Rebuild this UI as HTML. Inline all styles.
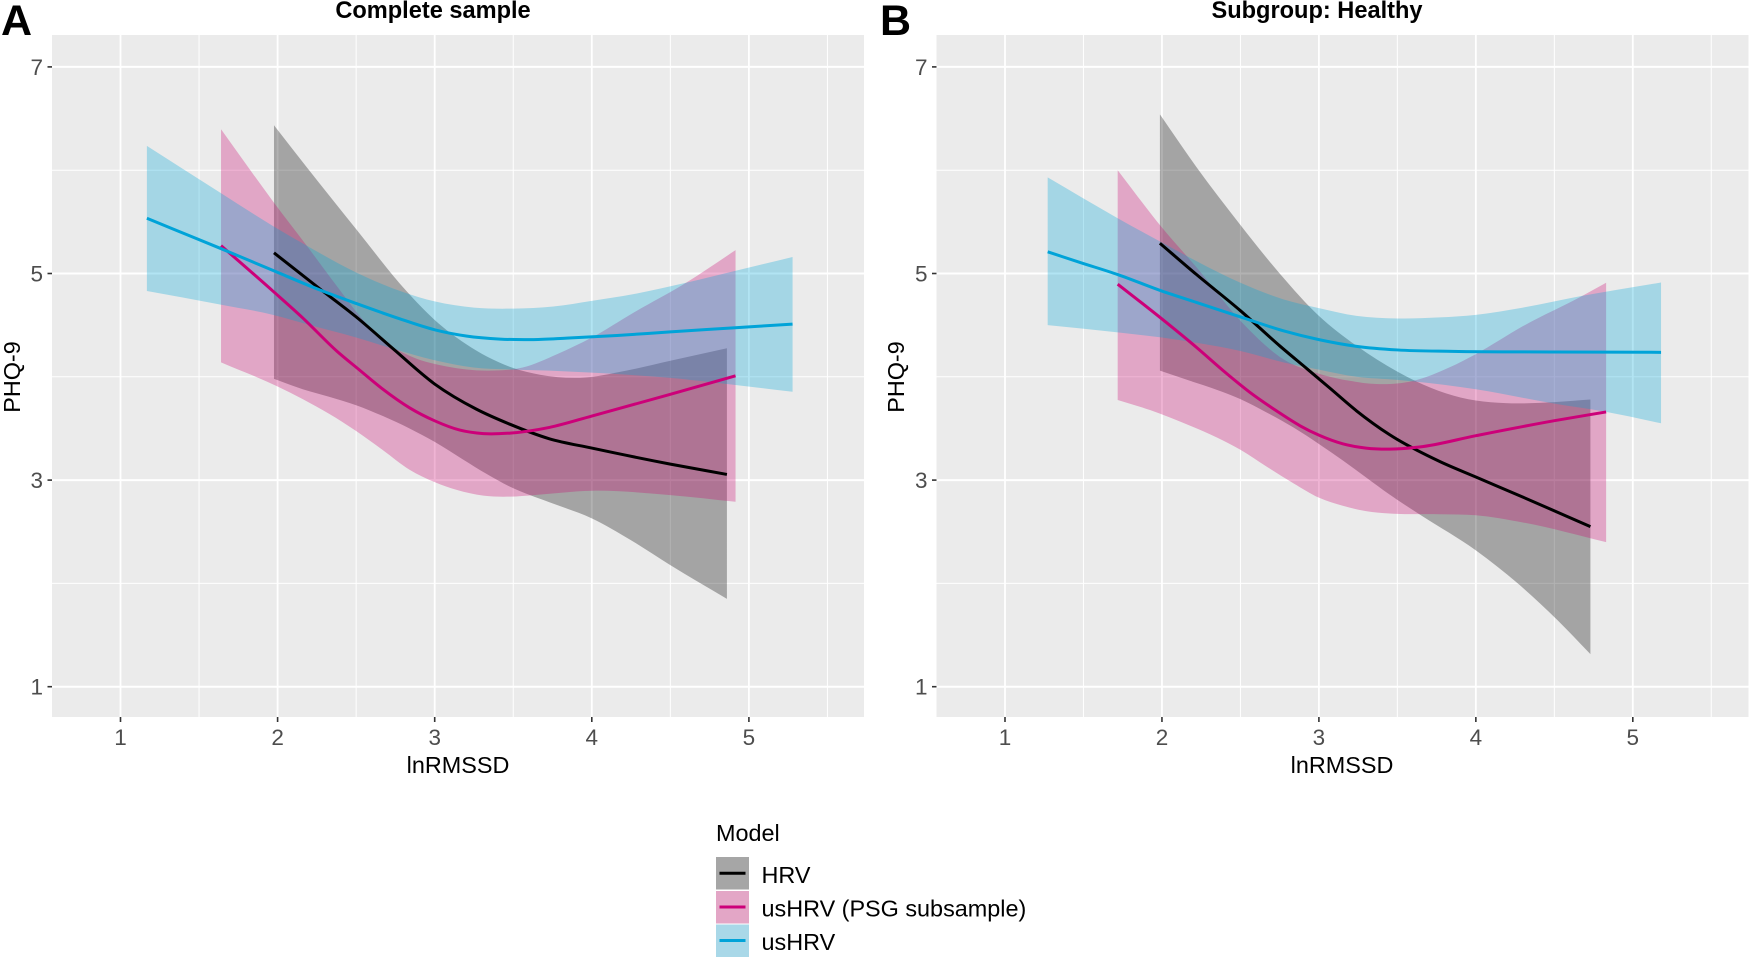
<!DOCTYPE html>
<html lang="en">
<head>
<meta charset="utf-8">
<title>PHQ-9 by lnRMSSD</title>
<style>
html,body{margin:0;padding:0;background:#fff;width:1750px;height:959px;overflow:hidden}
svg{display:block}
text{font-family:"Liberation Sans",Arial,sans-serif}
</style>
</head>
<body>
<svg id="figure" xmlns="http://www.w3.org/2000/svg" width="1750" height="959" viewBox="0 0 1750 959">
  <rect x="0" y="0" width="1750" height="959" fill="#ffffff"/>
  <text x="1" y="35" font-size="43" font-weight="700" fill="#000">A</text>
  <text x="880" y="35" font-size="43" font-weight="700" fill="#000">B</text>
  <text x="433" y="18" font-size="23.6" font-weight="700" text-anchor="middle" fill="#000">Complete sample</text>
  <text x="1317" y="18" font-size="23.6" font-weight="700" text-anchor="middle" fill="#000">Subgroup: Healthy</text>
  <text x="458" y="773" font-size="23.4" text-anchor="middle" fill="#000">lnRMSSD</text>
  <text x="1342" y="773" font-size="23.4" text-anchor="middle" fill="#000">lnRMSSD</text>
  <text transform="translate(20,377) rotate(-90)" font-size="23.4" text-anchor="middle" fill="#000">PHQ-9</text>
  <text transform="translate(904,377) rotate(-90)" font-size="23.4" text-anchor="middle" fill="#000">PHQ-9</text>
  <g>
    <text x="716" y="841" font-size="23.4" fill="#000">Model</text>
    <g>
      <rect x="716" y="857" width="33" height="32.5" fill="#a6a6a6"/>
      <line x1="719.5" x2="745.5" y1="873.3" y2="873.3" stroke="#000" stroke-width="3"/>
      <text x="761.5" y="883" font-size="23.4" fill="#000">HRV</text>
    </g>
    <g>
      <rect x="716" y="891" width="33" height="32.5" fill="#e3a6c6"/>
      <line x1="719.5" x2="745.5" y1="907" y2="907" stroke="#cc0079" stroke-width="3"/>
      <text x="761.5" y="916.5" font-size="23.4" fill="#000">usHRV (PSG subsample)</text>
    </g>
    <g>
      <rect x="716" y="924.5" width="33" height="32.5" fill="#a9d8e8"/>
      <line x1="719.5" x2="745.5" y1="940.5" y2="940.5" stroke="#00a3d8" stroke-width="3"/>
      <text x="761.5" y="950" font-size="23.4" fill="#000">usHRV</text>
    </g>
  </g>
</svg>
<script>
// Axis values
const xMajorTicks = [1, 2, 3, 4, 5];
const xMinorTicks = [1.5, 2.5, 3.5, 4.5, 5.5];
const yMajorTicks = [1, 3, 5, 7];
const yMinorTicks = [2, 4, 6];

// Panel A: Complete sample, [lnRMSSD, PHQ-9]
const aHrvUpper = [[1.977,6.435],[2.185,6.03],[2.5,5.43],[2.82,4.83],[3,4.55],[3.2,4.316],[3.5,4.085],[3.67,4.02],[3.925,3.99],[4.22,4.06],[4.5,4.155],[4.86,4.277]];
const aHrvLine = [[1.977,5.2],[2.27,4.85],[2.5,4.58],[2.736,4.27],[3,3.93],[3.265,3.687],[3.48,3.54],[3.73,3.40],[4,3.31],[4.5,3.155],[4.86,3.055]];
const aHrvLower = [[1.977,3.98],[2.16,3.88],[2.33,3.806],[2.5,3.725],[2.67,3.62],[2.84,3.50],[3,3.37],[3.18,3.2],[3.33,3.06],[3.48,2.935],[3.73,2.785],[4,2.63],[4.247,2.42],[4.496,2.18],[4.86,1.85]];
const aPsgUpper = [[1.64,6.397],[1.97,5.70],[2.185,5.27],[2.376,4.88],[2.545,4.55],[2.694,4.33],[2.86,4.19],[3.076,4.10],[3.33,4.06],[3.56,4.09],[3.78,4.22],[4,4.38],[4.265,4.62],[4.6,4.91],[4.915,5.226]];
const aPsgLine = [[1.64,5.27],[1.97,4.83],[2.16,4.57],[2.376,4.25],[2.526,4.06],[2.67,3.88],[2.84,3.70],[3,3.574],[3.16,3.484],[3.31,3.45],[3.48,3.455],[3.73,3.51],[4,3.62],[4.5,3.83],[4.915,4.01]];
const aPsgLower = [[1.64,4.14],[2,3.906],[2.16,3.784],[2.33,3.64],[2.5,3.475],[2.67,3.29],[2.84,3.10],[3,2.98],[3.14,2.905],[3.31,2.85],[3.48,2.84],[3.63,2.855],[4,2.897],[4.5,2.855],[4.915,2.79]];
const aUsUpper = [[1.168,6.235],[1.633,5.784],[1.97,5.46],[2.185,5.27],[2.5,5.01],[2.8,4.82],[3,4.73],[3.25,4.67],[3.5,4.66],[3.755,4.68],[4,4.735],[4.265,4.80],[4.6,4.91],[4.9,5.02],[5.278,5.16]];
const aUsLine = [[1.168,5.535],[1.336,5.43],[1.633,5.245],[1.97,5.03],[2.27,4.84],[2.5,4.71],[2.78,4.56],[3,4.455],[3.2,4.395],[3.416,4.365],[3.63,4.36],[3.84,4.374],[4.16,4.40],[4.5,4.435],[4.9,4.474],[5.278,4.51]];
const aUsLower = [[1.168,4.83],[1.633,4.70],[1.97,4.6],[2.185,4.51],[2.5,4.38],[2.715,4.28],[3,4.16],[3.246,4.09],[3.5,4.07],[3.73,4.06],[4,4.04],[4.265,4.016],[4.5,3.99],[4.86,3.93],[5.278,3.855]];

// Panel B: Subgroup Healthy, [lnRMSSD, PHQ-9]
const bHrvUpper = [[1.987,6.54],[2.22,6.03],[2.5,5.47],[2.75,5.0],[3,4.59],[3.24,4.30],[3.5,4.05],[3.6,3.97],[3.81,3.84],[4,3.77],[4.19,3.745],[4.5,3.755],[4.73,3.78]];
const bHrvLine = [[1.987,5.293],[2.22,4.99],[2.5,4.64],[2.75,4.30],[2.93,4.07],[3.07,3.89],[3.24,3.67],[3.45,3.44],[3.77,3.18],[4,3.03],[4.3,2.835],[4.73,2.55]];
const bHrvLower = [[1.987,4.06],[2.18,3.96],[2.35,3.874],[2.5,3.784],[2.667,3.655],[2.837,3.51],[3,3.35],[3.155,3.187],[3.3,3.026],[3.45,2.86],[3.66,2.65],[4,2.32],[4.267,2.0],[4.52,1.645],[4.73,1.315]];
const bPsgUpper = [[1.718,6.0],[2,5.445],[2.22,5.06],[2.52,4.51],[2.774,4.17],[3,4.03],[3.2,3.96],[3.365,3.93],[3.6,3.96],[3.83,4.09],[4,4.22],[4.3,4.49],[4.68,4.784],[4.83,4.91]];
const bPsgLine = [[1.718,4.897],[2,4.56],[2.22,4.285],[2.39,4.06],[2.56,3.85],[2.73,3.67],[2.88,3.526],[3,3.435],[3.155,3.35],[3.3,3.31],[3.45,3.30],[3.64,3.32],[4,3.43],[4.5,3.575],[4.83,3.66]];
const bPsgLower = [[1.718,3.776],[1.926,3.677],[2.18,3.526],[2.35,3.413],[2.5,3.294],[2.667,3.13],[2.837,2.97],[3,2.83],[3.155,2.75],[3.3,2.70],[3.45,2.677],[3.77,2.67],[4,2.66],[4.3,2.59],[4.83,2.4]];
const bUsUpper = [[1.272,5.93],[1.718,5.535],[2,5.30],[2.22,5.12],[2.5,4.91],[2.774,4.75],[3,4.665],[3.24,4.59],[3.5,4.565],[3.77,4.575],[4,4.6],[4.3,4.67],[4.68,4.784],[5.18,4.913]];
const bUsLine = [[1.272,5.21],[1.48,5.106],[1.718,4.99],[2,4.83],[2.22,4.72],[2.52,4.57],[2.774,4.445],[3,4.36],[3.24,4.295],[3.5,4.26],[3.85,4.246],[4.5,4.24],[5.18,4.237]];
const bUsLower = [[1.272,4.50],[1.718,4.43],[2,4.38],[2.22,4.33],[2.5,4.25],[2.774,4.14],[3,4.07],[3.24,4.0],[3.5,3.97],[3.6,3.956],[4,3.88],[4.5,3.74],[4.83,3.66],[5.18,3.55]];

const SVG_NS = 'http://www.w3.org/2000/svg';
const figure = document.getElementById('figure');

function node(tag, parent) {
  const el = document.createElementNS(SVG_NS, tag);
  parent.appendChild(el);
  return el;
}

// Smooth cubic path with parabolic tangents through pixel points
function curve(pts, start) {
  const n = pts.length;
  const s = [];
  const h = [];
  for (let i = 0; i < n - 1; i++) {
    h.push(pts[i + 1][0] - pts[i][0]);
    s.push((pts[i + 1][1] - pts[i][1]) / h[i]);
  }
  const m = [s[0]];
  for (let i = 1; i < n - 1; i++) {
    m.push((h[i] * s[i - 1] + h[i - 1] * s[i]) / (h[i - 1] + h[i]));
  }
  m.push(s[n - 2]);
  let d = start + pts[0][0].toFixed(2) + ' ' + pts[0][1].toFixed(2);
  for (let i = 0; i < n - 1; i++) {
    const dx = h[i] / 3;
    d += ' C' + (pts[i][0] + dx).toFixed(2) + ' ' + (pts[i][1] + m[i] * dx).toFixed(2) +
         ' ' + (pts[i + 1][0] - dx).toFixed(2) + ' ' + (pts[i + 1][1] - m[i + 1] * dx).toFixed(2) +
         ' ' + pts[i + 1][0].toFixed(2) + ' ' + pts[i + 1][1].toFixed(2);
  }
  return d;
}

function drawPanel(id, frame, series) {
  const xScale = v => frame.x1 + (v - 1) * frame.xUnit;
  const yScale = v => frame.y1 - (v - 1) * frame.yUnit;
  const toPx = p => [xScale(p[0]), yScale(p[1])];

  const g = node('g', figure);
  
  

  const bg = node('rect', g);
  
  
  bg.setAttribute('x', frame.left);
  bg.setAttribute('y', frame.top);
  bg.setAttribute('width', frame.right - frame.left);
  bg.setAttribute('height', frame.bottom - frame.top);
  bg.setAttribute('fill', '#ebebeb');

  yMinorTicks.forEach(v => {
    const l = node('line', g);
    
    
    l.setAttribute('x1', frame.left);
    l.setAttribute('x2', frame.right);
    l.setAttribute('y1', yScale(v));
    l.setAttribute('y2', yScale(v));
    l.setAttribute('stroke', '#fff');
    l.setAttribute('stroke-width', '1');
  });
  xMinorTicks.forEach(v => {
    const l = node('line', g);
    
    
    l.setAttribute('x1', xScale(v));
    l.setAttribute('x2', xScale(v));
    l.setAttribute('y1', frame.top);
    l.setAttribute('y2', frame.bottom);
    l.setAttribute('stroke', '#fff');
    l.setAttribute('stroke-width', '1');
  });
  yMajorTicks.forEach(v => {
    const l = node('line', g);
    
    
    l.setAttribute('x1', frame.left);
    l.setAttribute('x2', frame.right);
    l.setAttribute('y1', yScale(v));
    l.setAttribute('y2', yScale(v));
    l.setAttribute('stroke', '#fff');
    l.setAttribute('stroke-width', '2');
    const t = node('line', g);
    
    
    t.setAttribute('x1', frame.left - 4.5);
    t.setAttribute('x2', frame.left);
    t.setAttribute('y1', yScale(v));
    t.setAttribute('y2', yScale(v));
    t.setAttribute('stroke', '#333');
    t.setAttribute('stroke-width', '1.6');
    const lab = node('text', g);
    
    
    lab.setAttribute('x', frame.left - 9);
    lab.setAttribute('y', yScale(v) + 8);
    lab.setAttribute('text-anchor', 'end');
    lab.setAttribute('font-size', '22.5');
    lab.setAttribute('fill', '#4d4d4d');
    lab.textContent = v;
  });
  xMajorTicks.forEach(v => {
    const l = node('line', g);
    
    
    l.setAttribute('x1', xScale(v));
    l.setAttribute('x2', xScale(v));
    l.setAttribute('y1', frame.top);
    l.setAttribute('y2', frame.bottom);
    l.setAttribute('stroke', '#fff');
    l.setAttribute('stroke-width', '1.8');
    const t = node('line', g);
    
    
    t.setAttribute('x1', xScale(v));
    t.setAttribute('x2', xScale(v));
    t.setAttribute('y1', frame.bottom);
    t.setAttribute('y2', frame.bottom + 5);
    t.setAttribute('stroke', '#333');
    t.setAttribute('stroke-width', '1.6');
    const lab = node('text', g);
    
    
    lab.setAttribute('x', xScale(v));
    lab.setAttribute('y', frame.bottom + 28);
    lab.setAttribute('text-anchor', 'middle');
    lab.setAttribute('font-size', '22.5');
    lab.setAttribute('fill', '#4d4d4d');
    lab.textContent = v;
  });

  series.forEach(s => {
    const upper = s.upper.map(toPx);
    const lower = s.lower.map(toPx).reverse();
    const band = node('path', g);
    
    
    band.setAttribute('d', curve(upper, 'M') + ' ' + curve(lower, 'L') + ' Z');
    band.setAttribute('fill', s.color);
    band.setAttribute('fill-opacity', '0.3');
  });
  series.forEach(s => {
    const line = node('path', g);
    
    
    line.setAttribute('d', curve(s.line.map(toPx), 'M'));
    line.setAttribute('fill', 'none');
    line.setAttribute('stroke', s.lineColor);
    line.setAttribute('stroke-width', '3');
  });
}

const bandBlack = '#000000';
const bandPink = '#c90570';
const bandBlue = '#00a5d7';

drawPanel('panel-a',
  { left: 52, right: 864, top: 35, bottom: 717, x1: 120.5, xUnit: 157.1, y1: 686.7, yUnit: 103.3 },
  [
    { key: 'hrv', color: bandBlack, lineColor: '#000000', upper: aHrvUpper, line: aHrvLine, lower: aHrvLower },
    { key: 'ushrv-psg', color: bandPink, lineColor: '#cc0079', upper: aPsgUpper, line: aPsgLine, lower: aPsgLower },
    { key: 'ushrv', color: bandBlue, lineColor: '#00a3d8', upper: aUsUpper, line: aUsLine, lower: aUsLower }
  ]);

drawPanel('panel-b',
  { left: 936.5, right: 1748.5, top: 35, bottom: 717, x1: 1005, xUnit: 156.95, y1: 686.7, yUnit: 103.3 },
  [
    { key: 'hrv', color: bandBlack, lineColor: '#000000', upper: bHrvUpper, line: bHrvLine, lower: bHrvLower },
    { key: 'ushrv-psg', color: bandPink, lineColor: '#cc0079', upper: bPsgUpper, line: bPsgLine, lower: bPsgLower },
    { key: 'ushrv', color: bandBlue, lineColor: '#00a3d8', upper: bUsUpper, line: bUsLine, lower: bUsLower }
  ]);
</script>
</body>
</html>
